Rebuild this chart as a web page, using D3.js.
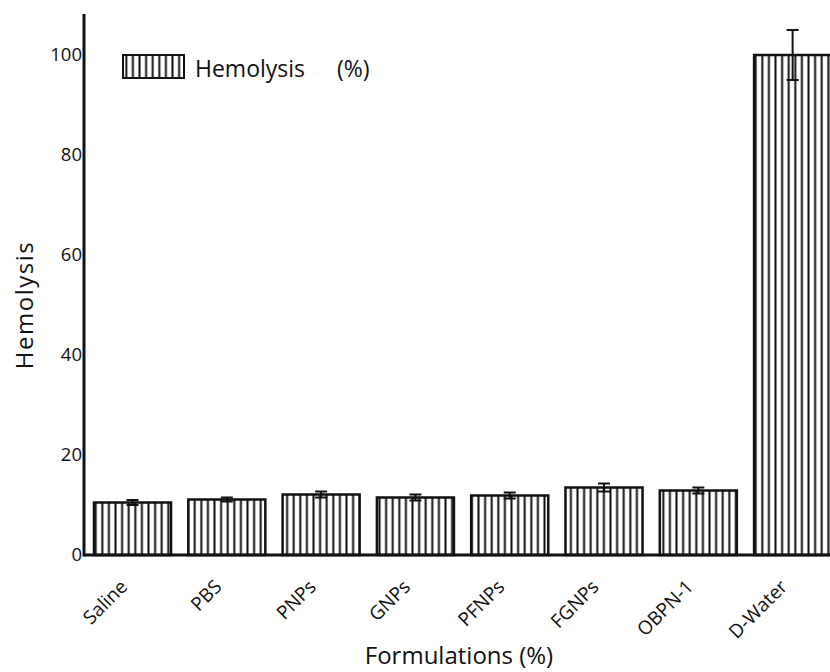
<!DOCTYPE html>
<html>
<head>
<meta charset="utf-8">
<script src="https://cdn.jsdelivr.net/npm/d3@7"></script>
<style>
  body { margin: 0; background: #fff; }
  text { font-family: 'Open Sans', sans-serif; fill: #111; }
</style>
</head>
<body>
<div id="chart"></div>
<script>
var categories = ['Saline', 'PBS', 'PNPs', 'GNPs', 'PFNPs', 'FGNPs', 'OBPN-1', 'D-Water'];
var hemolysis = [10.5, 11.1, 12.1, 11.5, 11.9, 13.5, 12.9, 100];
var errors = [0.5, 0.4, 0.6, 0.6, 0.6, 0.8, 0.6, 5];
var yTicks = [0, 20, 40, 60, 80, 100];

var width = 830;
var height = 672;
var left = 84;
var zeroY = 555;
var pxPerUnit = 5.0;

var svg = d3.select('#chart')
	.append('svg')
	.attr('width', width)
	.attr('height', height);

var defs = svg.append('defs');
var pattern = defs.append('pattern')
	.attr('id', 'stripes')
	.attr('patternUnits', 'userSpaceOnUse')
	.attr('width', 6.6)
	.attr('height', 10);
pattern.append('rect')
	.attr('width', 6.6)
	.attr('height', 10)
	.attr('fill', '#fff');
pattern.append('line')
	.attr('x1', 3.3).attr('x2', 3.3)
	.attr('y1', 0).attr('y2', 10)
	.attr('stroke', '#111')
	.attr('stroke-width', 2);

var step = 94.3;
var x = d3.scaleBand()
	.domain(categories)
	.range([left, left + step * (8 - 0.183 + 2 * 0.106)])
	.paddingInner(0.183)
	.paddingOuter(0.106);

var y = d3.scaleLinear()
	.domain([0, 100])
	.range([zeroY, zeroY - 100 * pxPerUnit]);

// bars
var bars = svg.append('g').classed('bars', true);
bars.selectAll('rect')
	.data(categories)
	.enter()
	.append('rect')
	.attr('x', function(d) { return x(d); })
	.attr('y', function(d, i) { return y(hemolysis[i]); })
	.attr('width', x.bandwidth())
	.attr('height', function(d, i) { return zeroY - y(hemolysis[i]); })
	.attr('fill', 'url(#stripes)')
	.attr('stroke', '#111')
	.attr('stroke-width', 2.5);

// error bars
var errs = svg.append('g').classed('errors', true);
categories.forEach(function(c, i) {
	var cx = x(c) + x.bandwidth() / 2;
	var g = errs.append('g');
	var hi = y(hemolysis[i] + errors[i]);
	var lo = y(hemolysis[i] - errors[i]);
	g.append('line')
		.attr('x1', cx).attr('x2', cx)
		.attr('y1', hi).attr('y2', lo)
		.attr('stroke', '#111').attr('stroke-width', 2);
	[hi, lo].forEach(function(yy) {
		g.append('line')
			.attr('x1', cx - 6).attr('x2', cx + 6)
			.attr('y1', yy).attr('y2', yy)
			.attr('stroke', '#111').attr('stroke-width', 2);
	});
});

// axes
svg.append('line')
	.attr('x1', left).attr('x2', width)
	.attr('y1', zeroY).attr('y2', zeroY)
	.attr('stroke', '#111').attr('stroke-width', 3);
svg.append('line')
	.attr('x1', left).attr('x2', left)
	.attr('y1', 14).attr('y2', zeroY + 1.5)
	.attr('stroke', '#111').attr('stroke-width', 3);

svg.append('g').selectAll('text')
	.data(yTicks)
	.enter()
	.append('text')
	.attr('x', left - 2)
	.attr('y', function(d) { return y(d); })
	.attr('dy', '0.35em')
	.attr('text-anchor', 'end')
	.style('font-size', '18.5px')
	.text(function(d) { return d; });

svg.append('g').selectAll('text')
	.data(categories)
	.enter()
	.append('text')
	.attr('transform', function(d) {
		return 'translate(' + (x(d) + x.bandwidth() / 2 - 4) + ',' + (zeroY + 33) + ') rotate(-45)';
	})
	.attr('text-anchor', 'end')
	.style('font-size', '19px')
	.text(function(d) { return d; });

// titles
svg.append('text')
	.attr('transform', 'translate(33, 305) rotate(-90)')
	.attr('text-anchor', 'middle')
	.style('font-size', '24px')
	.style('letter-spacing', '1.5px')
	.text('Hemolysis');

svg.append('text')
	.attr('x', 459)
	.attr('y', 664)
	.attr('text-anchor', 'middle')
	.style('font-size', '24px')
	.text('Formulations (%)');

// legend
var legend = svg.append('g').attr('transform', 'translate(123, 55)');
legend.append('rect')
	.attr('width', 61)
	.attr('height', 23)
	.attr('fill', 'url(#stripes)')
	.attr('stroke', '#111')
	.attr('stroke-width', 2);
legend.append('text')
	.attr('x', 72)
	.attr('y', 22)
	.style('font-size', '23px')
	.text('Hemolysis');
legend.append('text')
	.attr('x', 214)
	.attr('y', 22)
	.style('font-size', '23px')
	.text('(%)');
</script>
</body>
</html>
